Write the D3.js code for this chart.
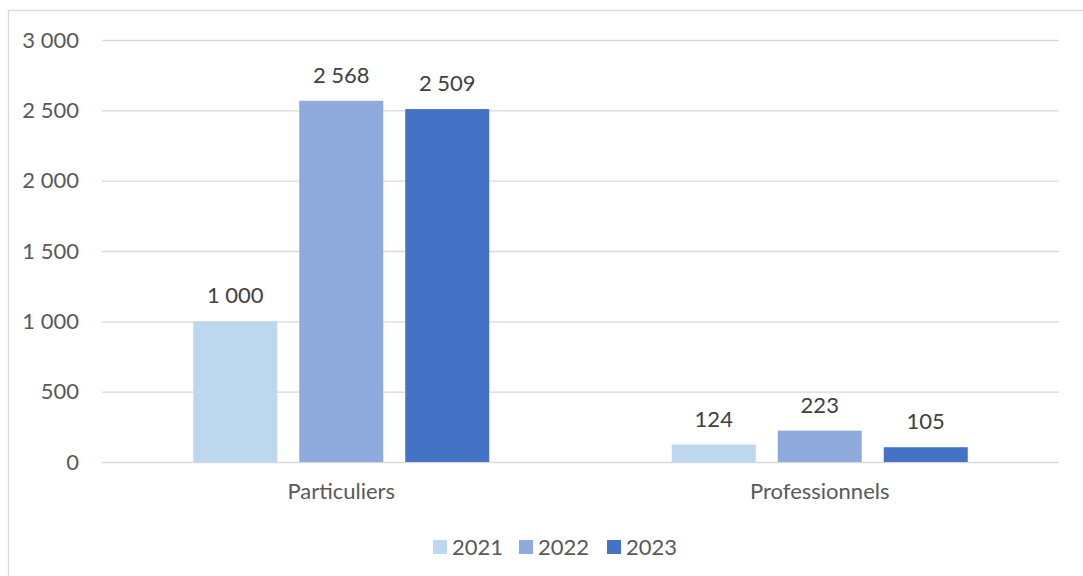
<!DOCTYPE html>
<html>
<head>
<meta charset="utf-8">
<script src="https://cdn.jsdelivr.net/npm/d3@7"></script>
<style>
  html, body { margin: 0; padding: 0; background: #fff; overflow: hidden; }
  svg { display: block; font-family: Lato, "Open Sans", sans-serif; }
</style>
</head>
<body>
<svg id="chart"></svg>
<script>
const width = 1083;
const height = 576;
const margin = { top: 40, right: 24, bottom: 114, left: 102 };

// Data
const categories = ["Particuliers", "Professionnels"];
const years = ["2021", "2022", "2023"];
const values2021 = [1000, 124];
const values2022 = [2568, 223];
const values2023 = [2509, 105];
const yTicks = [0, 500, 1000, 1500, 2000, 2500, 3000];
const colors = ["#BDD7EE", "#8FAADC", "#4472C4"];

const series = [values2021, values2022, values2023];
const rows = [];
categories.forEach((c, i) => {
  years.forEach((y, j) => rows.push({ cat: c, year: y, value: series[j][i] }));
});

// "3 000" style numbers
const fmt = v => d3.format(",")(v).replace(/,/g, " ");

const svg = d3.select("#chart")
              .attr("width", width)
              .attr("height", height);

// chart frame
svg.append("rect")
   .attr("x", 8.5).attr("y", 10.5)
   .attr("width", 1100).attr("height", 600)
   .attr("fill", "none")
   .attr("stroke", "#d9d9d9")
   .attr("stroke-width", 1.3);

// X Scale
const x0 = d3.scaleBand()
             .domain(categories)
             .range([margin.left, width - margin.right])
             .padding(0);

const x1 = d3.scaleBand()
             .domain(years)
             .range([0, x0.bandwidth()])
             .paddingInner(0.2075)
             .paddingOuter(0.861);

// Y Scale
const yScale = d3.scaleLinear()
                 .domain([0, 3000])
                 .range([height - margin.bottom, margin.top]);

// Gridlines + Y labels
const yAxis = d3.axisLeft(yScale)
                .tickValues(yTicks)
                .tickSize(-(width - margin.left - margin.right))
                .tickPadding(23)
                .tickFormat(fmt);
const gy = svg.append("g")
              .attr("id", "y-axis")
              .attr("transform", `translate(${margin.left}, 0)`)
              .call(yAxis);
gy.select(".domain").remove();
gy.selectAll(".tick line").attr("stroke", "#d9d9d9").attr("stroke-width", 1.3);
gy.selectAll(".tick text")
  .attr("fill", "#595959")
  .style("font-size", "22px")
  .style("font-family", "Lato, sans-serif");

// X Axis (category labels)
const xAxis = d3.axisBottom(x0).tickSize(0).tickPadding(21);
const gx = svg.append("g")
              .attr("id", "x-axis")
              .attr("transform", `translate(0, ${height - margin.bottom})`)
              .call(xAxis);
gx.select(".domain").remove();
gx.selectAll(".tick text")
  .attr("fill", "#595959")
  .style("font-size", "22px")
  .style("font-family", "Lato, sans-serif");

// Bars
svg.selectAll(".bar")
   .data(rows)
   .enter()
   .append("rect")
   .attr("class", "bar")
   .attr("x", d => x0(d.cat) + x1(d.year))
   .attr("y", d => yScale(d.value))
   .attr("width", x1.bandwidth())
   .attr("height", d => yScale(0) - yScale(d.value))
   .attr("fill", d => colors[years.indexOf(d.year)]);

// Data labels
svg.selectAll(".label")
   .data(rows)
   .enter()
   .append("text")
   .attr("class", "label")
   .attr("x", d => x0(d.cat) + x1(d.year) + x1.bandwidth() / 2)
   .attr("y", d => yScale(d.value) - 18)
   .attr("text-anchor", "middle")
   .attr("fill", "#404040")
   .style("font-size", "22px")
   .text(d => fmt(d.value));

// Legend
const legendX = [433, 519, 607];
const legend = svg.append("g").attr("id", "legend");
const items = legend.selectAll("g")
                    .data(years)
                    .enter()
                    .append("g")
                    .attr("transform", (d, i) => `translate(${legendX[i]}, 540)`);
items.append("rect")
     .attr("width", 14)
     .attr("height", 14)
     .attr("fill", (d, i) => colors[i]);
items.append("text")
     .attr("x", 19)
     .attr("y", 14.5)
     .attr("fill", "#595959")
     .style("font-size", "22px")
     .text(d => d);
</script>
</body>
</html>
